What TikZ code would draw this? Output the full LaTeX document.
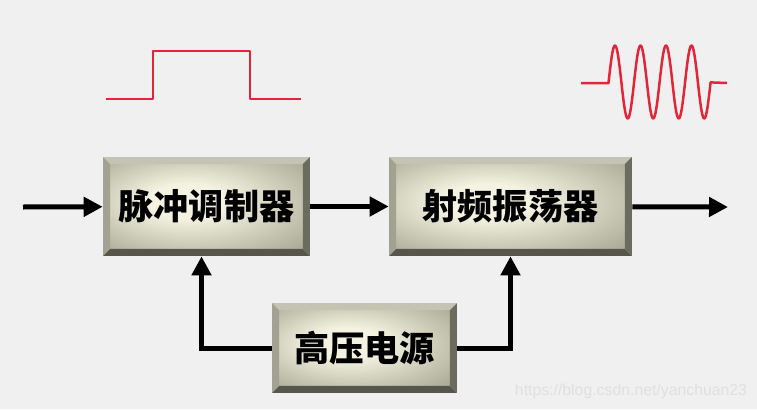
\documentclass[tikz,border=0pt]{standalone}
\usepackage{fontspec}
\newfontfamily\cjk{Noto Sans CJK SC}
\newfontfamily\wmfont{Liberation Sans}
\usetikzlibrary{arrows.meta,calc}
\definecolor{bgcol}{HTML}{F0F0F0}
\definecolor{facehi}{HTML}{F4F2E0}
\definecolor{facelo}{HTML}{9E9E8A}
\definecolor{bevtop}{HTML}{C4C4B4}
\definecolor{bevleft}{HTML}{A2A292}
\definecolor{bevright}{HTML}{6C6C5E}
\definecolor{bevbot}{HTML}{56564A}
\definecolor{wavered}{HTML}{E2263A}
\pgfdeclareradialshading{boxface}{\pgfpoint{-6bp}{4bp}}{color(0bp)=(facehi); color(10bp)=(facehi); color(42bp)=(facelo); color(60bp)=(facelo)}
\tikzset{
  blockbox/.style={inner sep=0pt, text=black, font=\cjk\bfseries\fontsize{20}{24}\selectfont,
    path picture={
      \coordinate (p1) at (path picture bounding box.north west);
      \coordinate (p2) at (path picture bounding box.north east);
      \coordinate (p3) at (path picture bounding box.south east);
      \coordinate (p4) at (path picture bounding box.south west);
      \coordinate (q1) at ($(p1)+(7,7)$);  \coordinate (q2) at ($(p2)+(-7,7)$);
      \coordinate (q3) at ($(p3)+(-7,-7)$); \coordinate (q4) at ($(p4)+(7,-7)$);
      \shade[shading=boxface] (q1) rectangle (q3);
      \fill[bevtop] (p1)--(p2)--(q2)--(q1)--cycle;
      \fill[bevleft] (p1)--(q1)--(q4)--(p4)--cycle;
      \fill[bevright] (p2)--(p3)--(q3)--(q2)--cycle;
      \fill[bevbot] (p4)--(q4)--(q3)--(p3)--cycle;
    }},
  flow/.style={line width=0.1cm, draw=black, -{Triangle[length=0.38cm,width=0.38cm]}},
  wave/.style={wavered, line width=0.05cm, line join=round}
}
\begin{document}
\begin{tikzpicture}[x=0.02cm,y=-0.02cm]
  \fill[bgcol] (0,0) rectangle (757,409);
  % blocks
  \node[blockbox, minimum width=4.14cm, minimum height=1.98cm] (mod) at (206.5,206.5) {脉冲调制器};
  \node[blockbox, minimum width=4.86cm, minimum height=1.98cm] (osc) at (510.5,206.5) {射频振荡器};
  \node[blockbox, minimum width=3.7cm, minimum height=1.8cm] (hv) at (364.5,348) {高压电源};
  % signal path
  \coordinate (in) at (23,207);
  \coordinate (out) at (728,207);
  \draw[flow] (in) -- (mod);
  \draw[flow] (mod) -- (osc);
  \draw[flow] (osc) -- (out);
  \draw[flow] (hv.west) -| ([xshift=-0.1cm]mod.south);
  \draw[flow] (hv.east) -| (osc.south);
  % waveforms
  \draw[wave] (106,99) -- (153,99) -- (153,51) -- (250,51) -- (250,99) -- (301,99);
  \draw[wave] (581,83) -- (608.6,83) -- plot[domain=0:4,samples=160] ({608.6+25.5*\x},{82-36.5*sin(360*\x)}) -- (727,83);
  \node[text=black!12, font=\wmfont\fontsize{9}{9}\selectfont] (wm) at (631,391) {https://blog.csdn.net/yanchuan23};
\end{tikzpicture}
\end{document}
